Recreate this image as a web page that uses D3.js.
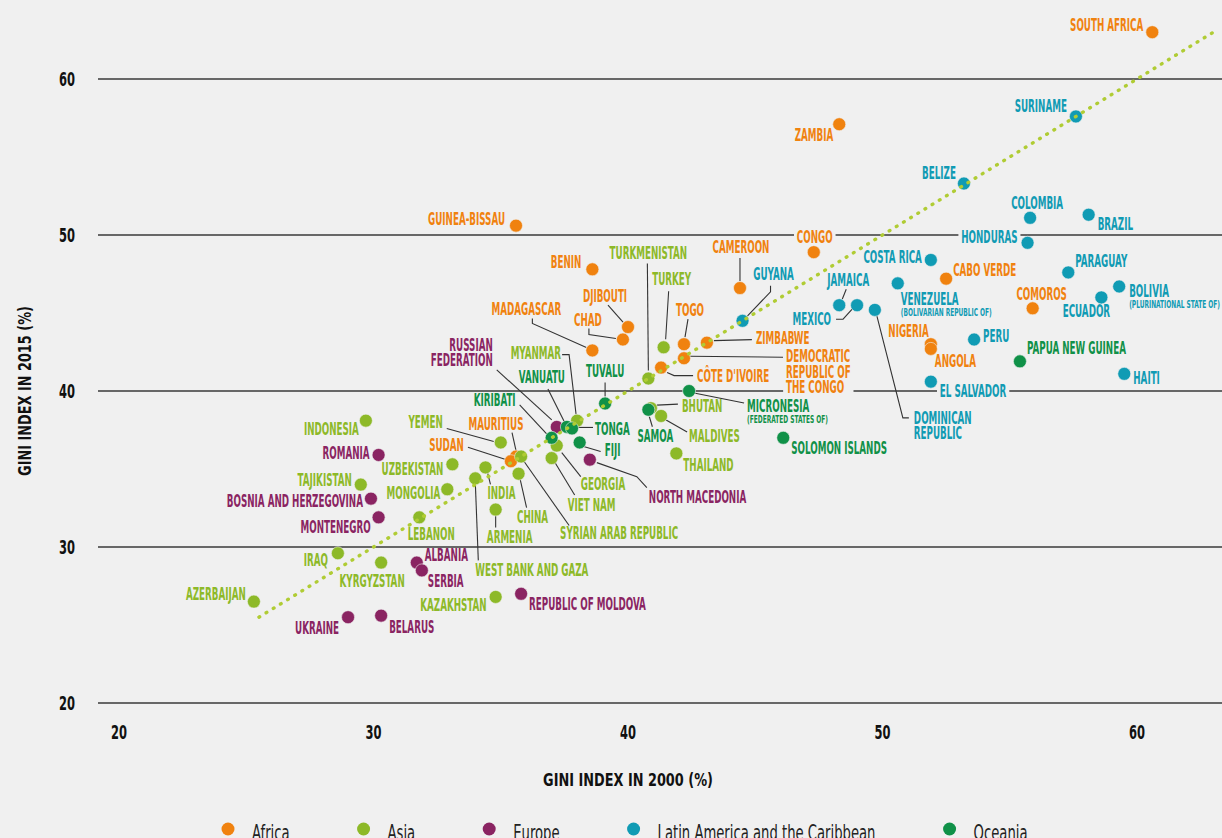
<!DOCTYPE html>
<html><head><meta charset="utf-8">
<script src="https://cdn.jsdelivr.net/npm/d3@7"></script>
<style>
html,body{margin:0;padding:0;background:#f0f0f0;}
svg{display:block;}
</style></head><body>
<svg id="chart" width="1222" height="838"></svg>
<script>
// ---------------- DATA ----------------
const regions = ["Africa", "Asia", "Europe", "Latin America and the Caribbean", "Oceania"];
const regionColors = ["#f0820f", "#8db928", "#8a2462", "#109bb4", "#109148"];

const countries = [
  // Africa
  "SOUTH AFRICA","ZAMBIA","GUINEA-BISSAU","BENIN","CAMEROON","CONGO","DJIBOUTI","CHAD","MADAGASCAR","TOGO",
  "ZIMBABWE","DEMOCRATIC\nREPUBLIC OF\nTHE CONGO","CÔTE D'IVOIRE","MAURITIUS","SUDAN","CABO VERDE","COMOROS","NIGERIA","ANGOLA",
  // Asia
  "TURKMENISTAN","TURKEY","MYANMAR","BHUTAN","MALDIVES","THAILAND","INDONESIA","YEMEN","UZBEKISTAN","MONGOLIA",
  "INDIA","WEST BANK AND GAZA","CHINA","ARMENIA","SYRIAN ARAB REPUBLIC","GEORGIA","VIET NAM","LEBANON","TAJIKISTAN","IRAQ",
  "KYRGYZSTAN","AZERBAIJAN","KAZAKHSTAN",
  // Europe
  "RUSSIAN\nFEDERATION","ROMANIA","BOSNIA AND HERZEGOVINA","MONTENEGRO","ALBANIA","SERBIA","UKRAINE","BELARUS","REPUBLIC OF MOLDOVA","NORTH MACEDONIA",
  // Latin America and the Caribbean
  "SURINAME","BELIZE","COLOMBIA","BRAZIL","HONDURAS","COSTA RICA","PARAGUAY","BOLIVIA","ECUADOR","JAMAICA",
  "MEXICO","VENEZUELA","DOMINICAN\nREPUBLIC","GUYANA","PERU","EL SALVADOR","HAITI",
  // Oceania
  "PAPUA NEW GUINEA","SOLOMON ISLANDS","MICRONESIA","TUVALU","VANUATU","TONGA","KIRIBATI","FIJI","SAMOA"
];
const gini2000 = [
  60.6,48.3,35.6,38.6,44.4,47.3,40.0,39.8,38.6,42.2,
  43.1,42.2,41.3,35.6,35.4,52.5,55.9,51.9,51.9,
  40.8,41.4,38.0,40.9,41.3,41.9,29.7,35.0,33.1,32.9,
  34.4,34.0,35.7,34.8,35.8,37.2,37.0,31.8,29.5,28.6,
  30.3,25.3,34.8,
  37.2,30.2,29.9,30.2,31.7,31.9,29.0,30.3,35.8,38.5,
  57.6,53.2,55.8,58.1,55.7,51.9,57.3,59.3,58.6,48.3,
  49.0,50.6,49.7,44.5,53.6,51.9,59.5,
  55.4,46.1,42.4,39.1,37.6,37.8,37.0,38.1,40.8
];
const gini2015 = [
  63.0,57.1,50.6,47.8,46.6,48.9,44.1,43.3,42.6,43.0,
  43.1,42.1,41.5,35.8,35.5,47.2,45.3,43.0,42.7,
  40.8,42.8,38.1,38.9,38.4,36.0,38.1,36.7,35.3,33.7,
  35.1,34.4,34.7,32.4,35.8,36.5,35.7,31.9,34.0,29.6,
  29.0,26.5,26.8,
  37.7,35.9,33.1,31.9,29.0,28.5,25.5,25.6,27.0,35.6,
  57.6,53.3,51.1,51.3,49.5,48.4,47.6,46.7,46.0,45.5,
  45.5,46.9,45.2,44.5,43.3,40.6,41.1,
  41.9,37.0,40.0,39.2,37.7,37.6,37.0,36.7,38.8
];
const regionOf = [
  0,0,0,0,0,0,0,0,0,0, 0,0,0,0,0,0,0,0,0,
  1,1,1,1,1,1,1,1,1,1, 1,1,1,1,1,1,1,1,1,1, 1,1,1,
  2,2,2,2,2,2,2,2,2,2,
  3,3,3,3,3,3,3,3,3,3, 3,3,3,3,3,3,3,
  4,4,4,4,4,4,4,4,4
];
const subNames = {"BOLIVIA":"(PLURINATIONAL STATE OF)","VENEZUELA":"(BOLIVARIAN REPUBLIC OF)","MICRONESIA":"(FEDERATED STATES OF)"};
const xTicks = [20,30,40,50,60];
const yTicks = [20,30,40,50,60];
const trendFrom = 25.5, trendTo = 63.1; // line of equality y = x
const xTitle = "GINI INDEX IN 2000 (%)";
const yTitle = "GINI INDEX IN 2015 (%)";

// ---------------- LABEL LAYOUT (pixel offsets from each point) ----------------
// a: anchor, d: [dx, dy of first baseline], l: leader polyline offsets, bg: knock out gridline
const layout = {
 "SOUTH AFRICA":{a:"end",d:[-9,-1]},
 "ZAMBIA":{a:"end",d:[-6,17]},
 "GUINEA-BISSAU":{a:"end",d:[-11,-1]},
 "BENIN":{a:"end",d:[-11,-1]},
 "CAMEROON":{a:"middle",d:[1,-35],l:[[0,-30],[0,-7]]},
 "CONGO":{a:"middle",d:[1,-9],bg:true},
 "DJIBOUTI":{a:"middle",d:[-23,-25],l:[[-20,-22],[-5,-5]]},
 "CHAD":{a:"middle",d:[-35,-14],l:[[-34,-11],[-34,-5],[-7,-1]]},
 "MADAGASCAR":{a:"middle",d:[-66,-35],l:[[-60,-32],[-60,-27],[-6,-3]]},
 "TOGO":{a:"middle",d:[6,-28],l:[[4,-25],[1,-7]]},
 "ZIMBABWE":{a:"start",d:[49,1],l:[[7,-2],[45,-3]]},
 "DEMOCRATIC REPUBLIC OF THE CONGO":{a:"start",d:[102,4],l:[[6,-2],[99,-1]],bg:true},
 "CÔTE D'IVOIRE":{a:"start",d:[36,14],l:[[6,5],[13,8],[32,8]]},
 "MAURITIUS":{a:"middle",d:[-20,-27],l:[[-4,-24],[0,-6]]},
 "SUDAN":{a:"end",d:[-47,-10],l:[[-43,-14],[-6,-2]]},
 "CABO VERDE":{a:"start",d:[7,-3]},
 "COMOROS":{a:"middle",d:[9,-8]},
 "NIGERIA":{a:"end",d:[-2,-7]},
 "ANGOLA":{a:"start",d:[4,18]},
 "TURKMENISTAN":{a:"middle",d:[0,-120],l:[[-1,-115],[0,-8]]},
 "TURKEY":{a:"middle",d:[8,-62],l:[[5,-56],[2,-8]]},
 "MYANMAR":{a:"end",d:[-16,-62],l:[[-15,-66],[-8,-66],[-1,-6]]},
 "BHUTAN":{a:"start",d:[31,4],l:[[6,-3],[27,-4]]},
 "MALDIVES":{a:"start",d:[28,26],l:[[5,4],[26,16]]},
 "THAILAND":{a:"start",d:[7,18]},
 "INDONESIA":{a:"end",d:[-7,14]},
 "YEMEN":{a:"end",d:[-58,-14],l:[[-54,-14],[-7,-1]]},
 "UZBEKISTAN":{a:"end",d:[-9,11]},
 "MONGOLIA":{a:"end",d:[-7,10]},
 "INDIA":{a:"middle",d:[16,32],l:[[2,5],[5,17]]},
 "WEST BANK AND GAZA":{a:"start",d:[0,98],l:[[0,4],[3,82]]},
 "CHINA":{a:"middle",d:[14,49],l:[[1,3],[8,34]]},
 "ARMENIA":{a:"middle",d:[14,33],l:[[0,6],[0,18]]},
 "SYRIAN ARAB REPUBLIC":{a:"start",d:[39,82],l:[[3,5],[48,69]]},
 "GEORGIA":{a:"start",d:[24,44],l:[[5,7],[24,31]]},
 "VIET NAM":{a:"start",d:[16,53],l:[[3,4],[23,37]]},
 "LEBANON":{a:"middle",d:[12,23]},
 "TAJIKISTAN":{a:"end",d:[-9,1]},
 "IRAQ":{a:"end",d:[-10,13]},
 "KYRGYZSTAN":{a:"middle",d:[-9,24]},
 "AZERBAIJAN":{a:"end",d:[-8,-2]},
 "KAZAKHSTAN":{a:"end",d:[-9,14]},
 "RUSSIAN FEDERATION":{a:"end",d:[-64,-76],l:[[-60,-57],[-5,-7]]},
 "ROMANIA":{a:"end",d:[-9,4]},
 "BOSNIA AND HERZEGOVINA":{a:"end",d:[-8,8]},
 "MONTENEGRO":{a:"end",d:[-8,16]},
 "ALBANIA":{a:"start",d:[8,-2]},
 "SERBIA":{a:"start",d:[6,17]},
 "UKRAINE":{a:"end",d:[-9,17]},
 "BELARUS":{a:"start",d:[8,17]},
 "REPUBLIC OF MOLDOVA":{a:"start",d:[8,16]},
 "NORTH MACEDONIA":{a:"start",d:[59,43],l:[[7,3],[47,17],[57,28]]},
 "SURINAME":{a:"end",d:[-9,-4]},
 "BELIZE":{a:"end",d:[-8,-5]},
 "COLOMBIA":{a:"middle",d:[7,-9]},
 "BRAZIL":{a:"start",d:[9,15]},
 "HONDURAS":{a:"end",d:[-10,0],bg:true},
 "COSTA RICA":{a:"end",d:[-9,3]},
 "PARAGUAY":{a:"start",d:[7,-5]},
 "BOLIVIA":{a:"start",d:[10,11]},
 "ECUADOR":{a:"middle",d:[-15,20]},
 "JAMAICA":{a:"middle",d:[9,-19],l:[[7,-16],[3,-6]]},
 "MEXICO":{a:"end",d:[-26,20],l:[[-21,14],[-14,14],[-4,3]]},
 "VENEZUELA":{a:"start",d:[3,22]},
 "DOMINICAN REPUBLIC":{a:"start",d:[39,114],l:[[2,6],[28,108],[34,108]]},
 "GUYANA":{a:"middle",d:[31,-41],l:[[28,-35],[28,-29],[5,-5]]},
 "PERU":{a:"start",d:[9,2]},
 "EL SALVADOR":{a:"start",d:[9,15],bg:true},
 "HAITI":{a:"start",d:[9,10]},
 "PAPUA NEW GUINEA":{a:"start",d:[7,-7]},
 "SOLOMON ISLANDS":{a:"start",d:[8,16]},
 "MICRONESIA":{a:"start",d:[58,21],l:[[5,2],[55,12]]},
 "TUVALU":{a:"middle",d:[0,-26],l:[[0,-21],[0,-7]]},
 "VANUATU":{a:"middle",d:[-25,-44],l:[[-19,-38],[-2,-4]]},
 "TONGA":{a:"start",d:[23,7],l:[[5,-1],[21,-1]]},
 "KIRIBATI":{a:"middle",d:[-57,-32],l:[[-32,-33],[-5,-4]]},
 "FIJI":{a:"start",d:[25,14],l:[[4,4],[21,9]]},
 "SAMOA":{a:"middle",d:[7,32],l:[[1,7],[4,17]]}
};

// ---------------- CHART ----------------
const W = 1222, H = 838, BG = "#f0f0f0";
const FONT = "'Liberation Sans Narrow','Arial Narrow','DejaVu Sans Condensed',sans-serif";
const svg = d3.select("#chart");
svg.append("rect").attr("width",W).attr("height",H).attr("fill",BG);

const x = d3.scaleLinear().domain([20,60]).range([119,1137]);
const y = d3.scaleLinear().domain([20,60]).range([703,79]);

// font calibration (condensed face emulation)
const cv = document.createElement("canvas").getContext("2d");
function widthOf(txt, weight, size){ cv.font = `${weight} ${size}px ${FONT}`; return cv.measureText(txt).width; }
const LF = 17, lblSX = 77 / widthOf("GUINEA-BISSAU","bold",LF);
const SF = 11, subSX = 91 / widthOf("(PLURINATIONAL STATE OF)","bold",SF);
const TF = 19, tickSX = 16 / widthOf("60","bold",TF);
const AF = 18, axSX = 170 / widthOf(xTitle,"bold",AF);
const GF = 22, legSX = 218 / widthOf("Latin America and the Caribbean","normal",GF);

// gridlines
const grid = svg.append("g");
grid.selectAll("line").data(yTicks).join("line")
  .attr("x1",98).attr("x2",W).attr("y1",d=>y(d)).attr("y2",d=>y(d))
  .attr("stroke","#3a3a3a").attr("stroke-width",1.4);

// y tick labels
svg.append("g").selectAll("g").data(yTicks).join("g")
  .attr("transform",d=>`translate(75,${y(d)+7}) scale(${tickSX},1)`)
  .append("text").attr("text-anchor","end").attr("font-family",FONT).attr("font-size",TF)
  .attr("font-weight","bold").attr("fill","#111").text(d=>d);
// x tick labels
svg.append("g").selectAll("g").data(xTicks).join("g")
  .attr("transform",d=>`translate(${x(d)},739) scale(${tickSX},1)`)
  .append("text").attr("text-anchor","middle").attr("font-family",FONT).attr("font-size",TF)
  .attr("font-weight","bold").attr("fill","#111").text(d=>d);

// axis titles
svg.append("g").attr("transform",`translate(628,786) scale(${axSX},1)`)
  .append("text").attr("text-anchor","middle").attr("font-family",FONT).attr("font-weight","bold")
  .attr("font-size",AF).attr("fill","#111").text(xTitle);
svg.append("g").attr("transform",`translate(31,391) rotate(-90) scale(${axSX},1)`)
  .append("text").attr("text-anchor","middle").attr("font-family",FONT).attr("font-weight","bold")
  .attr("font-size",AF).attr("fill","#111").text(yTitle);

// data rows
const rows = countries.map((c,i)=>({name:c, key:c.replace(/\n/g," "), x0:gini2000[i], y1:gini2015[i], r:regionOf[i]}));

// leader lines
const leaders = svg.append("g");
rows.forEach(d=>{
  const L = layout[d.key];
  if(!L || !L.l) return;
  const px = x(d.x0), py = y(d.y1);
  leaders.append("path")
    .attr("d", d3.line()(L.l.map(p=>[px+p[0], py+p[1]])))
    .attr("fill","none").attr("stroke","#333").attr("stroke-width",1.1);
});

// labels
const labels = svg.append("g");
rows.forEach(d=>{
  const L = layout[d.key];
  const px = x(d.x0), py = y(d.y1);
  const col = regionColors[d.r];
  const g = labels.append("g").attr("transform",`translate(${px+L.d[0]},${py+L.d[1]}) scale(${lblSX},1)`);
  const t = g.append("text").attr("text-anchor",L.a).attr("font-family",FONT)
    .attr("font-weight","bold").attr("font-size",LF).attr("fill",col);
  d.name.split("\n").forEach((s,i)=>t.append("tspan").attr("x",0).attr("dy",i?15.5:0).text(s));
  if(L.bg){
    const b = t.node().getBBox();
    g.insert("rect","text").attr("x",b.x-5).attr("y",b.y+1).attr("width",b.width+10).attr("height",b.height-2).attr("fill",BG);
  }
  if(subNames[d.key]){
    const sg = labels.append("g").attr("transform",`translate(${px+L.d[0]},${py+L.d[1]+11}) scale(${subSX},1)`);
    sg.append("text").attr("text-anchor",L.a).attr("font-family",FONT).attr("font-weight","bold")
      .attr("font-size",SF).attr("fill",col).text(subNames[d.key]);
  }
});

// points
svg.append("g").selectAll("circle").data(rows).join("circle")
  .attr("cx",d=>x(d.x0)).attr("cy",d=>y(d.y1)).attr("r",6.5)
  .attr("fill",d=>regionColors[d.r]).attr("stroke",BG).attr("stroke-width",0.6);

// line of equality (dotted)
svg.append("line")
  .attr("x1",x(trendFrom)).attr("y1",y(trendFrom)).attr("x2",x(trendTo)).attr("y2",y(trendTo))
  .attr("stroke","#b0cc34").attr("stroke-width",3.4).attr("stroke-linecap","round")
  .attr("stroke-dasharray","0.8 7.6");

// legend
const leg = svg.append("g");
let lx = 228;
regions.forEach((r,i)=>{
  leg.append("circle").attr("cx",lx).attr("cy",829).attr("r",6.5).attr("fill",regionColors[i]);
  leg.append("g").attr("transform",`translate(${lx+24},840) scale(${legSX},1)`)
    .append("text").attr("font-family",FONT).attr("font-size",GF).attr("fill","#222").text(r);
  lx += 24 + widthOf(r,"normal",GF)*legSX + 74;
});
</script>
</body></html>
